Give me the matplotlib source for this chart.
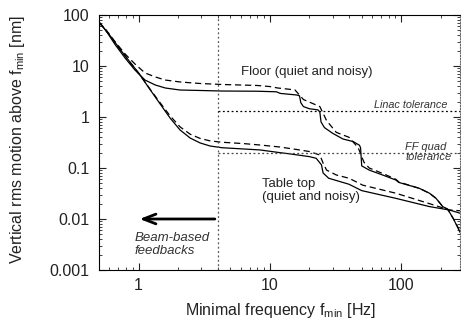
import matplotlib
matplotlib.use("Agg")
import matplotlib.pyplot as plt

plt.rcParams['font.family'] = ['Liberation Sans', 'DejaVu Sans']

# floor, quiet (solid)
floor_q_f = [0.5, 0.56, 0.665, 0.79, 0.94, 1.12, 1.34, 1.6, 2.07, 2.94, 4.3, 8, 11.2, 12, 16, 16.8, 17.2, 18,
             20, 23.2, 24, 24.5, 26, 30, 36, 43, 48, 49, 50, 57, 72, 91, 96, 137, 164, 184, 207, 226, 250, 280]
floor_q_v = [72, 51, 26, 14.3, 8.3, 5.3, 4.24, 3.7, 3.38, 3.31, 3.23, 3.2, 3.12, 2.9, 2.7, 2.6, 1.9, 1.6,
             1.45, 1.38, 1.25, 0.8, 0.62, 0.48, 0.37, 0.33, 0.28, 0.25, 0.11, 0.091, 0.073, 0.058, 0.052, 0.04,
             0.032, 0.0254, 0.0175, 0.0155, 0.010, 0.0055]

# floor, noisy (dashed)
floor_n_f = [0.5, 0.56, 0.665, 0.79, 0.94, 1.12, 1.34, 1.6, 2.07, 2.94, 4.3, 8, 10, 11.5, 15.5, 18, 24, 27,
             32, 40, 47, 52, 57, 75, 91, 96, 137, 164, 184, 207, 226, 250, 280]
floor_n_v = [72, 53, 29.5, 17.2, 10.9, 7.3, 6.1, 5.3, 4.86, 4.54, 4.34, 4.15, 3.95, 3.7, 3.4, 2.2, 1.6, 0.85,
             0.5, 0.4, 0.25, 0.13, 0.1, 0.075, 0.06, 0.053, 0.04, 0.032, 0.0254, 0.0175, 0.0155, 0.010, 0.0058]

# table top, quiet (solid)
table_q_f = [0.5, 0.61, 0.73, 0.87, 1.0, 1.23, 1.46, 1.74, 2.07, 2.47, 2.94, 3.5, 4.3, 8.4, 11.9, 14, 20,
             22.5, 24.7, 25.4, 28, 40, 50, 91, 164, 233, 280]
table_q_v = [72, 38.7, 20.6, 11.5, 7.3, 3.38, 1.8, 0.95, 0.556, 0.387, 0.31, 0.27, 0.25, 0.226, 0.2, 0.19,
             0.167, 0.155, 0.115, 0.08, 0.063, 0.048, 0.036, 0.0254, 0.0175, 0.015, 0.013]

# table top, noisy (dashed)
table_n_f = [0.5, 0.61, 0.73, 0.87, 1.0, 1.23, 1.46, 1.74, 2.07, 2.47, 2.94, 3.5, 4.3, 6.4, 8.7, 11.9, 17, 20,
             24, 25.4, 27, 32, 40, 51, 91, 164, 233, 280]
table_n_v = [72, 38.7, 20.6, 11.5, 7.3, 3.45, 1.9, 1.05, 0.64, 0.46, 0.38, 0.34, 0.32, 0.30, 0.28, 0.258,
             0.225, 0.21, 0.18, 0.125, 0.091, 0.073, 0.063, 0.046, 0.032, 0.02, 0.015, 0.0145]

f_feedback = 4
linac_tol = 1.3
ffquad_tol = 0.2

fig = plt.figure(figsize=(4.61, 3.21), dpi=100)
ax = fig.add_axes([0.2148, 0.1589, 0.783, 0.7944])

dash = (0, (5, 3))
dot = (0, (1.5, 2))
ax.plot(floor_q_f, floor_q_v, color='black', lw=0.9)
ax.plot(floor_n_f, floor_n_v, color='black', lw=0.9, ls=dash)
ax.plot(table_q_f, table_q_v, color='black', lw=0.9)
ax.plot(table_n_f, table_n_v, color='black', lw=0.9, ls=dash)

ax.axvline(f_feedback, color='#555555', lw=0.9, ls=dot)
ax.plot([f_feedback, 280], [linac_tol, linac_tol], color='black', lw=0.9, ls=dot)
ax.plot([f_feedback, 280], [ffquad_tol, ffquad_tol], color='#444444', lw=0.9, ls=dot)

ax.set_xscale('log')
ax.set_yscale('log')
ax.set_xlim(0.5, 280)
ax.set_ylim(0.001, 100)

ax.set_xticks([1, 10, 100])
ax.set_xticklabels(['1', '10', '100'])
ax.set_yticks([0.001, 0.01, 0.1, 1, 10, 100])
ax.set_yticklabels(['0.001', '0.01', '0.1', '1', '10', '100'])
ax.tick_params(which='both', direction='in', top=True, right=True, labelsize=11.5, colors='#222222')
ax.tick_params(which='major', length=5)
ax.tick_params(which='minor', length=2.5)
ax.tick_params(axis='x', which='major', pad=6)
ax.tick_params(axis='y', which='major', pad=7)
ax.spines['right'].set_linestyle((0, (1, 1.5)))
ax.spines['right'].set_color('#666666')

ax.set_xlabel('Minimal frequency f$_{\\mathregular{min}}$ [Hz]', fontsize=11.5, color='#222222')
ax.set_ylabel('Vertical rms motion above f$_{\\mathregular{min}}$ [nm]', fontsize=11.5, color='#222222')
ax.xaxis.set_label_coords(0.504, -0.12)
ax.yaxis.set_label_coords(-0.2, 0.51)

ax.annotate('', xy=(0.97, 0.01), xytext=(f_feedback, 0.01),
            arrowprops=dict(arrowstyle='->,head_length=0.9,head_width=0.35', lw=2, color='black'))

ax.text(19, 7.6, 'Floor (quiet and noisy)', fontsize=9.5, ha='center', va='center', color='#222222')
ax.text(224, 1.72, 'Linac tolerance', fontsize=7.8, style='italic', ha='right', va='center', color='#333333')
ax.text(107, 0.205, 'FF quad\ntolerance', fontsize=8, style='italic', ha='left', va='center',
        color='#333333', linespacing=1.1)
ax.text(8.65, 0.0355, 'Table top\n(quiet and noisy)', fontsize=9.5, ha='left', va='center',
        color='#222222', linespacing=1.1)
ax.text(0.93, 0.0032, 'Beam-based\nfeedbacks', fontsize=9.5, style='italic', ha='left', va='center',
        color='#333333', linespacing=1.1)

fig.savefig('out.png', dpi=100)
